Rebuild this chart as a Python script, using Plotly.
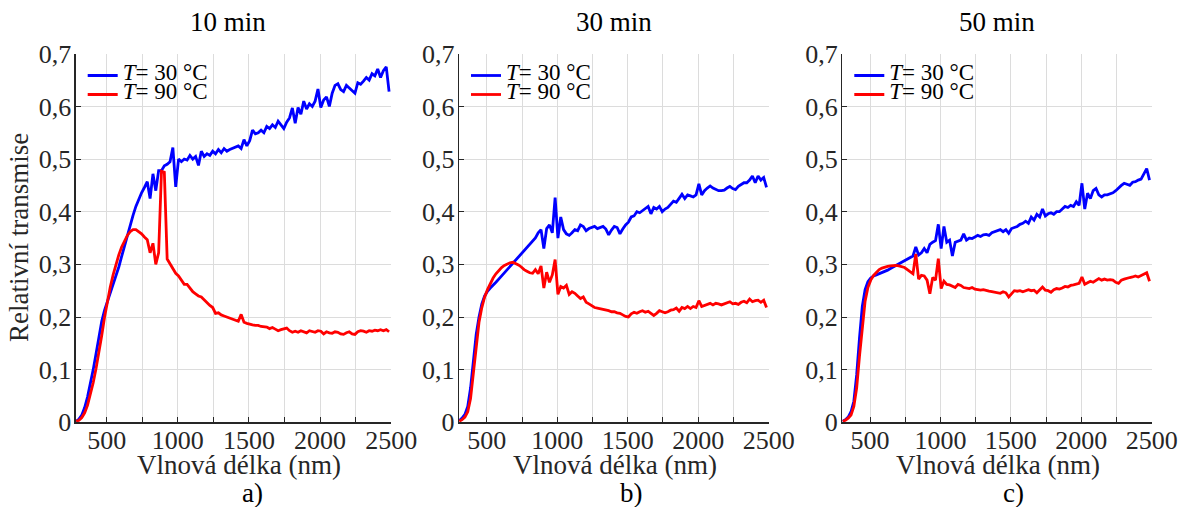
import plotly.graph_objects as go

W, H = 1189, 507
FONT = "Liberation Serif"
AX = "#262626"
GRID = "#dcdcdc"
BLUE = "#0000ff"
RED = "#ff0000"

# ---------------- data ----------------
wl_a = list(range(285, 2500, 20))
wl_b = list(range(305, 2500, 20))
wl_c = list(range(305, 2500, 20))

blue_a = [
    0.002, 0.006, 0.014, 0.028, 0.048, 0.072, 0.100, 0.130, 0.163, 0.192,
    0.213, 0.229, 0.244, 0.259, 0.276, 0.295, 0.315, 0.335, 0.356, 0.376,
    0.393, 0.410, 0.424, 0.436, 0.446, 0.457, 0.425, 0.472, 0.440, 0.478,
    0.478, 0.487, 0.490, 0.495, 0.522, 0.447, 0.500, 0.495, 0.500, 0.498,
    0.507, 0.500, 0.505, 0.488, 0.515, 0.505, 0.510, 0.507, 0.515, 0.510,
    0.518, 0.512, 0.520, 0.515, 0.518, 0.520, 0.522, 0.525, 0.520, 0.537,
    0.525, 0.535, 0.555, 0.548, 0.550, 0.555, 0.550, 0.562, 0.558, 0.565,
    0.560, 0.572, 0.565, 0.558, 0.570, 0.578, 0.597, 0.568, 0.598, 0.585,
    0.610, 0.595, 0.605, 0.600, 0.610, 0.633, 0.598, 0.612, 0.618, 0.600,
    0.625, 0.640, 0.643, 0.632, 0.628, 0.640, 0.635, 0.630, 0.625, 0.645,
    0.642, 0.648, 0.655, 0.650, 0.662, 0.658, 0.671, 0.655, 0.668, 0.675,
    0.628,
]
red_a = [
    0.002, 0.004, 0.009, 0.018, 0.032, 0.052, 0.075, 0.102, 0.132, 0.165,
    0.200, 0.230, 0.257, 0.280, 0.300, 0.318, 0.333, 0.345, 0.355, 0.362,
    0.366, 0.366, 0.362, 0.358, 0.352, 0.347, 0.322, 0.340, 0.300, 0.322,
    0.477, 0.475, 0.310, 0.300, 0.292, 0.283, 0.278, 0.270, 0.262, 0.262,
    0.255, 0.248, 0.244, 0.240, 0.238, 0.232, 0.228, 0.222, 0.218, 0.207,
    0.208, 0.204, 0.202, 0.200, 0.198, 0.196, 0.194, 0.192, 0.205, 0.190,
    0.188, 0.186, 0.185, 0.184, 0.184, 0.182, 0.181, 0.181, 0.178, 0.180,
    0.177, 0.174, 0.176, 0.178, 0.179, 0.174, 0.171, 0.173, 0.171, 0.174,
    0.172, 0.170, 0.174, 0.172, 0.171, 0.174, 0.173, 0.168, 0.172, 0.170,
    0.169, 0.172, 0.171, 0.168, 0.167, 0.170, 0.172, 0.168, 0.167, 0.172,
    0.174, 0.173, 0.171, 0.174, 0.173, 0.175, 0.174, 0.176, 0.174, 0.176,
    0.172,
]
blue_b = [
    0.003, 0.008, 0.015, 0.030, 0.065, 0.120, 0.167, 0.200, 0.225, 0.240,
    0.249, 0.255, 0.260, 0.266, 0.272, 0.278, 0.283, 0.290, 0.296, 0.302,
    0.309, 0.315, 0.321, 0.327, 0.333, 0.338, 0.344, 0.350, 0.360, 0.366,
    0.330, 0.368, 0.375, 0.360, 0.427, 0.350, 0.390, 0.366, 0.358, 0.355,
    0.360, 0.366, 0.364, 0.375, 0.372, 0.364, 0.368, 0.370, 0.372, 0.368,
    0.370, 0.372, 0.367, 0.356, 0.365, 0.372, 0.370, 0.358, 0.367, 0.375,
    0.380, 0.390, 0.392, 0.400, 0.398, 0.402, 0.405, 0.410, 0.396, 0.408,
    0.405, 0.410, 0.400, 0.405, 0.408, 0.415, 0.420, 0.418, 0.425, 0.433,
    0.425, 0.432, 0.430, 0.428, 0.432, 0.453, 0.432, 0.440, 0.445, 0.449,
    0.445, 0.442, 0.440, 0.440, 0.441, 0.445, 0.448, 0.444, 0.442, 0.448,
    0.452, 0.455, 0.455, 0.460, 0.468, 0.455, 0.468, 0.460, 0.465, 0.446,
]
red_b = [
    0.002, 0.005, 0.010, 0.020, 0.045, 0.090, 0.145, 0.190, 0.218, 0.238,
    0.252, 0.264, 0.274, 0.282, 0.289, 0.294, 0.298, 0.301, 0.303, 0.304,
    0.302, 0.299, 0.295, 0.290, 0.287, 0.284, 0.283, 0.290, 0.282, 0.297,
    0.255, 0.285, 0.266, 0.280, 0.309, 0.243, 0.258, 0.255, 0.260, 0.243,
    0.248, 0.245, 0.240, 0.235, 0.238, 0.228, 0.225, 0.222, 0.218, 0.217,
    0.216, 0.214, 0.213, 0.212, 0.210, 0.210, 0.208, 0.207, 0.204, 0.201,
    0.200, 0.206, 0.209, 0.207, 0.210, 0.212, 0.209, 0.211, 0.207, 0.203,
    0.207, 0.212, 0.210, 0.208, 0.210, 0.213, 0.214, 0.217, 0.211, 0.218,
    0.216, 0.220, 0.216, 0.220, 0.218, 0.231, 0.220, 0.222, 0.224, 0.226,
    0.223, 0.226, 0.225, 0.223, 0.225, 0.227, 0.229, 0.225, 0.226, 0.224,
    0.228, 0.230, 0.227, 0.234, 0.229, 0.231, 0.232, 0.228, 0.232, 0.218,
]
blue_c = [
    0.002, 0.005, 0.010, 0.020, 0.040, 0.090, 0.160, 0.220, 0.252, 0.267,
    0.274, 0.278, 0.280, 0.282, 0.284, 0.286, 0.289, 0.292, 0.295, 0.298,
    0.301, 0.304, 0.307, 0.311, 0.314, 0.316, 0.333, 0.318, 0.322, 0.330,
    0.322, 0.338, 0.342, 0.345, 0.376, 0.330, 0.372, 0.342, 0.346, 0.316,
    0.342, 0.344, 0.346, 0.358, 0.346, 0.350, 0.349, 0.352, 0.355, 0.353,
    0.356, 0.357, 0.355, 0.360, 0.362, 0.363, 0.366, 0.362, 0.366, 0.359,
    0.368, 0.370, 0.372, 0.376, 0.378, 0.382, 0.378, 0.390, 0.384, 0.395,
    0.390, 0.405, 0.392, 0.396, 0.398, 0.395, 0.400, 0.400, 0.405, 0.410,
    0.408, 0.412, 0.410, 0.419, 0.412, 0.454, 0.405, 0.435, 0.425, 0.440,
    0.444, 0.432, 0.428, 0.432, 0.432, 0.434, 0.436, 0.440, 0.446, 0.450,
    0.454, 0.452, 0.450, 0.456, 0.457, 0.460, 0.462, 0.472, 0.482, 0.460,
]
red_c = [
    0.002, 0.004, 0.008, 0.014, 0.030, 0.065, 0.125, 0.185, 0.230, 0.256,
    0.270, 0.279, 0.285, 0.290, 0.293, 0.295, 0.296, 0.297, 0.298, 0.298,
    0.297, 0.296, 0.294, 0.290, 0.286, 0.282, 0.320, 0.272, 0.279, 0.278,
    0.270, 0.244, 0.275, 0.270, 0.311, 0.254, 0.268, 0.262, 0.261, 0.258,
    0.256, 0.262, 0.260, 0.256, 0.255, 0.254, 0.256, 0.253, 0.252, 0.251,
    0.252, 0.250, 0.249, 0.248, 0.247, 0.247, 0.245, 0.248, 0.246, 0.238,
    0.245, 0.250, 0.249, 0.250, 0.248, 0.250, 0.252, 0.250, 0.251, 0.246,
    0.252, 0.257, 0.251, 0.250, 0.247, 0.252, 0.254, 0.253, 0.255, 0.258,
    0.257, 0.260, 0.261, 0.262, 0.264, 0.276, 0.262, 0.265, 0.268, 0.266,
    0.270, 0.273, 0.270, 0.272, 0.270, 0.271, 0.270, 0.266, 0.264, 0.270,
    0.272, 0.274, 0.275, 0.276, 0.278, 0.276, 0.279, 0.282, 0.284, 0.268,
]

x_ticks = [500, 750, 1000, 1250, 1500, 1750, 2000, 2250, 2500]
x_ticktext = ["500", "", "1000", "", "1500", "", "2000", "", "2500"]
y_ticks = [0, 0.1, 0.2, 0.3, 0.4, 0.5, 0.6, 0.7]
y_ticktext = ["0", "0,1", "0,2", "0,3", "0,4", "0,5", "0,6", "0,7"]
series_names = ["<i>T</i>= 30 °C", "<i>T</i>= 90 °C"]
titles = ["10 min", "30 min", "50 min"]
labels = ["a)", "b)", "c)"]
x_title = "Vlnová délka (nm)"
y_title = "Relativní transmise"

for a, b in [(wl_a, blue_a), (wl_a, red_a), (wl_b, blue_b), (wl_b, red_b),
             (wl_c, blue_c), (wl_c, red_c)]:
    assert len(a) == len(b), (len(a), len(b))


# ---------------- layout helpers ----------------
def px(x):
    return x / W


def py(y):
    return 1 - y / H


panels = [
    dict(wl=wl_a, blue=blue_a, red=red_a, xr=[282, 2500.5], l=75.7, r=391.3,
         tx=228, xt=239, lx=252),
    dict(wl=wl_b, blue=blue_b, red=red_b, xr=[303, 2500.5], l=459.0, r=768.7,
         tx=614, xt=615, lx=631),
    dict(wl=wl_c, blue=blue_c, red=red_c, xr=[303, 2500.5], l=842.3, r=1151.7,
         tx=997, xt=998, lx=1013),
]
TOP, BOT = 53.5, 422.3

fig = go.Figure()
annotations = []
layout = dict(
    template="none",
    width=W, height=H, autosize=False,
    margin=dict(l=0, r=0, t=0, b=0, pad=0, autoexpand=False),
    paper_bgcolor="white", plot_bgcolor="white",
    font=dict(family=FONT, color=AX, size=26),
    showlegend=True,
)

for i, p in enumerate(panels):
    sfx = "" if i == 0 else str(i + 1)
    lg = "legend" + sfx
    for vals, col, nm in [(p["blue"], BLUE, series_names[0]),
                          (p["red"], RED, series_names[1])]:
        fig.add_trace(go.Scatter(
            x=p["wl"], y=vals, mode="lines",
            name='<span style="font-size:23px">' + nm + "</span>",
            line=dict(color=col, width=2.8),
            xaxis="x" + sfx, yaxis="y" + sfx, legend=lg,
        ))
    common = dict(
        ticks="inside", ticklen=5, tickwidth=1, tickcolor=AX,
        showline=True, linecolor=AX, linewidth=1.3, mirror=False,
        showgrid=True, gridcolor=GRID, gridwidth=1, zeroline=False,
        automargin=False,
        tickfont=dict(family=FONT, size=26, color=AX),
    )
    layout["xaxis" + sfx] = dict(
        domain=[px(p["l"]), px(p["r"])], anchor="y" + sfx, range=p["xr"],
        tickmode="array", tickvals=x_ticks, ticktext=x_ticktext,
        ticklabelstandoff=-6, **common,
    )
    layout["yaxis" + sfx] = dict(
        domain=[py(BOT), py(TOP)], anchor="x" + sfx, range=[0, 0.7005],
        tickmode="array", tickvals=y_ticks, ticktext=y_ticktext,
        ticklabelstandoff=-2, **common,
    )
    layout[lg] = dict(
        x=px(p["l"] + 7), y=py(61), xanchor="left", yanchor="top",
        bgcolor="rgba(0,0,0,0)", borderwidth=0,
        font=dict(family=FONT, size=11, color="black"),
        tracegroupgap=0,
    )
    annotations.append(dict(text=titles[i], x=px(p["tx"]), y=py(22),
                            xref="paper", yref="paper", showarrow=False,
                            xanchor="center", yanchor="middle",
                            font=dict(family=FONT, size=27, color="black")))
    annotations.append(dict(text=x_title, x=px(p["xt"]), y=py(465),
                            xref="paper", yref="paper", showarrow=False,
                            xanchor="center", yanchor="middle",
                            font=dict(family=FONT, size=27, color=AX)))
    annotations.append(dict(text=labels[i], x=px(p["lx"]), y=py(493),
                            xref="paper", yref="paper", showarrow=False,
                            xanchor="center", yanchor="middle",
                            font=dict(family=FONT, size=27, color="black")))

annotations.append(dict(text=y_title, x=px(19), y=py((TOP + BOT) / 2),
                        xref="paper", yref="paper", showarrow=False,
                        textangle=-90, xanchor="center", yanchor="middle",
                        font=dict(family=FONT, size=27, color=AX)))
layout["annotations"] = annotations
fig.update_layout(**layout)
fig.write_html("out.html", config={"displayModeBar": False, "staticPlot": True},
               post_script="document.body.style.margin='0';")
